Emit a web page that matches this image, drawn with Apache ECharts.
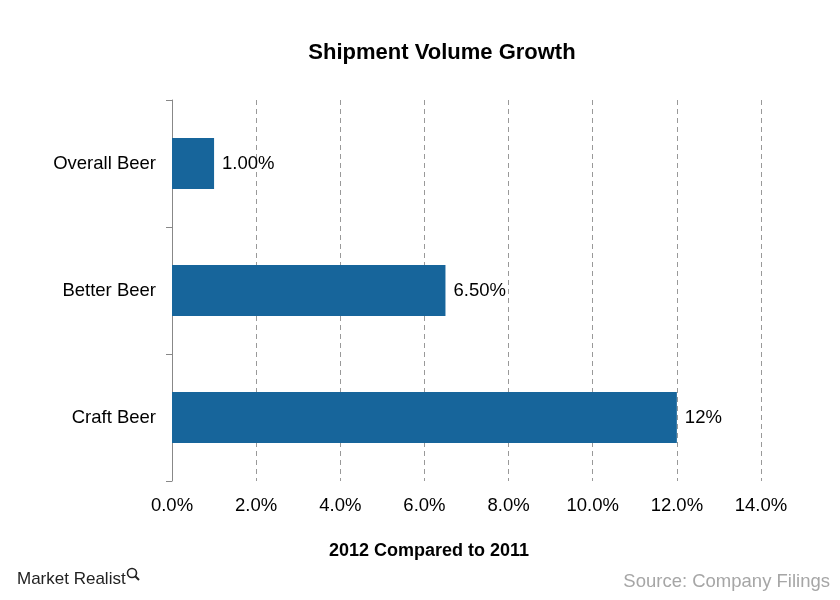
<!DOCTYPE html>
<html><head><meta charset="utf-8">
<script src="https://cdn.jsdelivr.net/npm/echarts@6/dist/echarts.min.js"></script>
<style>html,body{margin:0;padding:0;background:#fff}#c{width:840px;height:600px}</style>
</head><body><div id="c"></div>
<script>
const categories = ['Craft Beer', 'Better Beer', 'Overall Beer'];
const values = [12, 6.5, 1];
const valueLabels = ['12%', '6.50%', '1.00%'];
const xTicks = [0, 2, 4, 6, 8, 10, 12, 14];

const chart = echarts.init(document.getElementById('c'), null, {renderer: 'canvas'});
const font = 'Liberation Sans, Arial, sans-serif';
chart.setOption({
  backgroundColor: '#fff',
  animation: false,
  title: [
    {text: 'Shipment Volume Growth', left: 437, top: 37, textAlign: 'center',
     textStyle: {fontFamily: font, fontSize: 22, fontWeight: 'bold', color: '#000'}},
    {text: '2012 Compared to 2011', left: 424, top: 537, textAlign: 'center',
     textStyle: {fontFamily: font, fontSize: 18, fontWeight: 'bold', color: '#000'}},
    {text: 'Market Realist', left: 12, top: 566, padding: 5,
     textStyle: {fontFamily: font, fontSize: 17, fontWeight: 'normal', color: '#222'}},
    {text: 'Source: Company Filings', right: 5, top: 567,
     textStyle: {fontFamily: font, fontSize: 18.5, fontWeight: 'normal', color: '#a6a6a6'}}
  ],
  graphic: [
    {type: 'circle', shape: {cx: 132, cy: 573, r: 4.5}, style: {fill: 'none', stroke: '#222', lineWidth: 1.6}},
    {type: 'line', shape: {x1: 135, y1: 576, x2: 139, y2: 580}, style: {stroke: '#222', lineWidth: 2}}
  ],
  grid: {left: 172, right: 79, top: 100, bottom: 119, containLabel: false},
  xAxis: {
    type: 'value', min: 0, max: 14, interval: 2,
    axisLine: {show: false}, axisTick: {show: false},
    splitLine: {show: true, lineStyle: {color: '#999', type: [5, 4], width: 1}},
    axisLabel: {margin: 15, fontFamily: font, fontSize: 18.5, color: '#000',
      formatter: v => xTicks.includes(v) ? v.toFixed(1) + '%' : ''}
  },
  yAxis: {
    type: 'category', data: categories,
    axisLine: {show: true, lineStyle: {color: '#888', width: 1}},
    axisTick: {show: true, length: 6, lineStyle: {color: '#888'}},
    axisLabel: {margin: 16, fontFamily: font, fontSize: 18.5, color: '#000'}
  },
  series: [{
    type: 'bar', data: values, barWidth: '40%',
    itemStyle: {color: '#17659b'},
    label: {show: true, position: 'right', distance: 8, fontFamily: font, fontSize: 18.5, color: '#000',
      formatter: p => valueLabels[p.dataIndex]}
  }]
});
</script></body></html>
